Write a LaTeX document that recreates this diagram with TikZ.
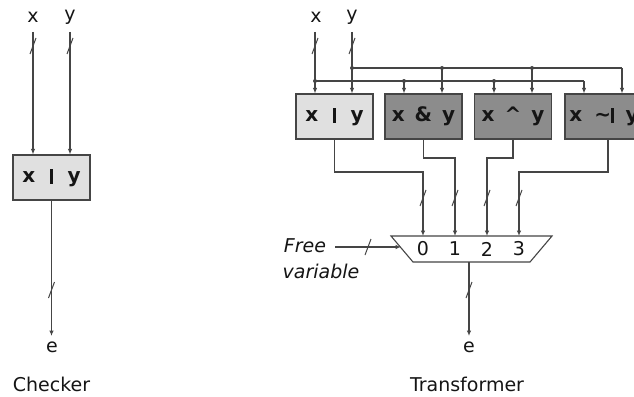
\documentclass[tikz,border=0pt]{standalone}
\usepackage{fontspec}
\setmainfont{DejaVu Sans}
\usetikzlibrary{arrows.meta,calc}
\definecolor{wirec}{HTML}{454545}
\definecolor{lightbox}{HTML}{E0E0E0}
\definecolor{darkbox}{HTML}{8C8C8C}
\definecolor{textc}{HTML}{151515}
\newcommand\vbarmark{\rule[-0.08em]{0.12em}{0.76em}}
\newcommand\gapsp{\hspace{0.75em}}
\tikzset{
  wire/.style={draw=wirec,line width=1.1pt},
  arr/.style={wire,-{Latex[length=5.5pt,width=4.5pt]}},
  opbox/.style={draw=wirec,line width=1.1pt,minimum width=77pt,minimum height=45pt,inner sep=0pt,
    font=\fontsize{20}{24}\selectfont\bfseries,text=textc},
  lightop/.style={opbox,fill=lightbox},
  darkop/.style={opbox,fill=darkbox},
  lbl/.style={font=\fontsize{19}{22}\selectfont,text=textc,inner sep=0pt},
  ilbl/.style={font=\fontsize{19}{22}\selectfont\itshape,text=textc,inner sep=0pt},
  jdot/.style={circle,fill=wirec,inner sep=0pt,minimum size=4pt},
  busmark/.pic={\draw[wire,line width=1pt] (-3,8) -- (3,-8);}
}
\begin{document}
\begin{tikzpicture}[x=1pt,y=-1pt]
\useasboundingbox (0,0) rectangle (634,396);
\fill[white] (0,0) rectangle (634,396);

% ---------------- Checker ----------------
\node[lbl] (cx) at (33,17) {x};
\node[lbl] (cy) at (70,17) {y};
\node[lightop] (cbox) at (51.5,177.5) {x\gapsp\vbarmark\gapsp y};
\node[lbl] (ce) at (52,347) {e};
\node[lbl] (cname) at (51.5,384) {Checker};
\coordinate (cxs) at (33,32);
\coordinate (cys) at (70,32);
\draw[arr] (cxs) -- (cxs |- cbox.north);
\draw[arr] (cys) -- (cys |- cbox.north);
\pic at (33,46) {busmark};
\pic at (70,46) {busmark};
\coordinate (ceend) at (51.5,336);
\draw[arr] (cbox.south) -- (ceend);
\pic at (51.5,290) {busmark};

% ---------------- Transformer ----------------
\node[lbl] (tx) at (316,17) {x};
\node[lbl] (ty) at (352,17) {y};
\coordinate (txs) at (315,32);
\coordinate (tys) at (352,32);
\pic at (315,46) {busmark};
\pic at (352,46) {busmark};

\node[lightop] (b1) at (334.5,116.5) {x\gapsp\vbarmark\gapsp y};
\node[darkop] (b2) at (423.5,116.5) {x\hspace{0.5em}\&\hspace{0.5em}y};
\node[darkop] (b3) at (513,116.5) {x\hspace{0.5em}\textasciicircum\hspace{0.5em}y};
\node[darkop,minimum width=86pt] (b4) at (608,116.5) {x\hspace{0.6em}\textasciitilde\vbarmark\hspace{0.6em}y\hspace*{8pt}};

% bus lines
\coordinate (xb0) at (315,81);
\coordinate (xb1) at (404,81);
\coordinate (xb2) at (494,81);
\coordinate (xb3) at (584,81);
\coordinate (yb0) at (352,68);
\coordinate (yb1) at (442,68);
\coordinate (yb2) at (532,68);
\coordinate (yb3) at (622,68);
\draw[arr] (txs) -- (txs |- b1.north);
\draw[arr] (tys) -- (tys |- b1.north);
\draw[wire] (xb0) -- (xb3);
\draw[wire] (yb0) -- (yb3);
\draw[arr] (xb1) -- (xb1 |- b2.north);
\draw[arr] (yb1) -- (yb1 |- b2.north);
\draw[arr] (xb2) -- (xb2 |- b3.north);
\draw[arr] (yb2) -- (yb2 |- b3.north);
\draw[arr] (xb3) -- (xb3 |- b4.north);
\draw[arr] (yb3) -- (yb3 |- b4.north);
\foreach \p in {xb0,xb1,xb2,yb0,yb1,yb2} \node[jdot] at (\p) {};

% multiplexer
\coordinate (mtl) at (391,236);
\coordinate (mtr) at (552,236);
\coordinate (mbr) at (530,262);
\coordinate (mbl) at (413,262);
\draw[wire,fill=white] (mtl) -- (mtr) -- (mbr) -- (mbl) -- cycle;
\node[lbl] (d0) at (423,249) {0};
\node[lbl] (d1) at (455,249) {1};
\node[lbl] (d2) at (487,249) {2};
\node[lbl] (d3) at (519,249) {3};

\coordinate (j0) at (423,172);
\coordinate (j1) at (455,158);
\coordinate (j2) at (487,158);
\coordinate (j3) at (519,172);
\draw[arr] (b1.south) |- (j0) -- (j0 |- mtl);
\draw[arr] (b2.south) |- (j1) -- (j1 |- mtl);
\draw[arr] (b3.south) |- (j2) -- (j2 |- mtl);
\draw[arr] (b4.south) |- (j3) -- (j3 |- mtl);
\foreach \x in {423,455,487,519} \pic at (\x,198) {busmark};

% free variable
\node[ilbl] (free) at (305,246) {Free};
\node[ilbl] (var) at (321,271) {variable};
\coordinate (fin) at (401,247);
\draw[arr] (free.east) ++(9,1) -- (fin);
\pic at (368,247) {busmark};

% output
\coordinate (mout) at (469,262);
\coordinate (teend) at (469,336);
\draw[arr] (mout) -- (teend);
\pic at (469,290) {busmark};
\node[lbl] (te) at (469,347) {e};
\node[lbl] (tname) at (467,384) {Transformer};
\end{tikzpicture}
\end{document}
